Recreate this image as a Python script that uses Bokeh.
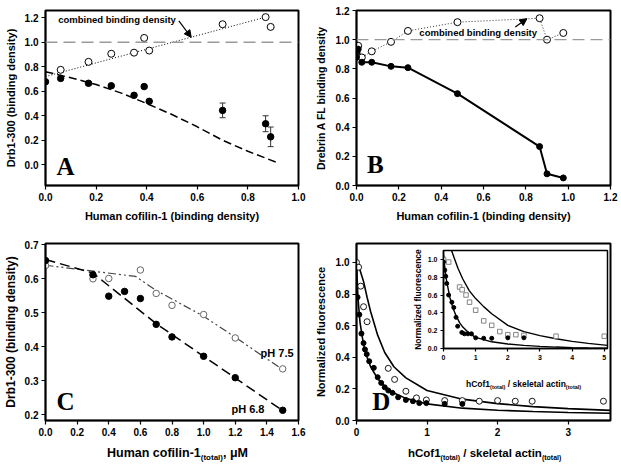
from bokeh.plotting import figure
from bokeh.models import (Range1d, Span, Arrow, NormalHead, TeeHead, Label, Whisker, Div,
                          ColumnDataSource, FixedTicker, CustomJSTickFormatter, GridBox)
from bokeh.embed import file_html
from bokeh.resources import INLINE

SANS = "Liberation Sans"
SERIF = "Liberation Serif"

# ---------------- Panel A ----------------
a_open_x = [0.06, 0.17, 0.26, 0.35, 0.39, 0.41, 0.70, 0.87, 0.89]
a_open_y = [0.775, 0.84, 0.906, 0.915, 1.035, 0.932, 1.147, 1.205, 1.125]
a_fill_x = [0.0, 0.06, 0.17, 0.26, 0.35, 0.39, 0.41, 0.70, 0.87, 0.89]
a_fill_y = [0.677, 0.705, 0.665, 0.645, 0.567, 0.638, 0.518, 0.444, 0.335, 0.228]
a_fill_err = [0.0, 0.0, 0.015, 0.0, 0.0, 0.012, 0.0, 0.06, 0.065, 0.08]
a_comb_x = [0.0, 0.87]
a_comb_y = [0.72, 1.205]
a_theory_x = [0.0, 0.1, 0.2, 0.3, 0.4, 0.5, 0.6, 0.7, 0.8, 0.92]
a_theory_y = [0.76, 0.71, 0.655, 0.585, 0.50, 0.41, 0.31, 0.20, 0.11, 0.015]
a_xticks = [0.0, 0.2, 0.4, 0.6, 0.8, 1.0]
a_yticks = [0.0, 0.2, 0.4, 0.6, 0.8, 1.0, 1.2]

# ---------------- Panel B ----------------
b_x = [0.0, 0.008, 0.025, 0.072, 0.163, 0.243, 0.477, 0.865, 0.900, 0.977]
b_fill_y = [0.88, 0.935, 0.845, 0.845, 0.817, 0.808, 0.630, 0.267, 0.080, 0.052]
b_open_y = [0.883, 0.958, 0.878, 0.920, 0.985, 1.060, 1.120, 1.147, 1.000, 1.046]
b_xticks = [0.0, 0.2, 0.4, 0.6, 0.8, 1.0, 1.2]
b_yticks = [0.0, 0.2, 0.4, 0.6, 0.8, 1.0, 1.2]

# ---------------- Panel C ----------------
c_x = [0.0, 0.3, 0.4, 0.5, 0.6, 0.7, 0.8, 1.0, 1.2, 1.5]
c_ph68_y = [0.654, 0.612, 0.549, 0.563, 0.542, 0.466, 0.429, 0.372, 0.309, 0.213]
c_open_x = [0.0, 0.3, 0.4, 0.6, 0.7, 0.8, 1.0, 1.2, 1.5]
c_ph75_y = [0.639, 0.600, 0.601, 0.626, 0.557, 0.522, 0.495, 0.426, 0.335]
c_fit68_x = [0.0, 0.3, 0.7, 1.0, 1.5]
c_fit68_y = [0.657, 0.617, 0.468, 0.372, 0.212]
c_fit75_x = [0.0, 0.57, 0.7, 1.0, 1.2, 1.5]
c_fit75_y = [0.640, 0.607, 0.566, 0.490, 0.428, 0.333]
c_xticks = [0.0, 0.2, 0.4, 0.6, 0.8, 1.0, 1.2, 1.4, 1.6]
c_yticks = [0.2, 0.3, 0.4, 0.5, 0.6, 0.7]

# ---------------- Panel D ----------------
d_open_x = [0.0, 0.03, 0.06, 0.1, 0.15, 0.45, 0.54, 0.70, 0.85, 0.99, 1.25, 1.5, 1.74, 2.0, 2.25, 2.49, 3.5]
d_open_y = [1.0, 0.97, 0.85, 0.72, 0.625, 0.33, 0.26, 0.185, 0.143, 0.13, 0.126, 0.126, 0.122, 0.126, 0.122, 0.122, 0.122]
d_fill_x = [0.015, 0.04, 0.07, 0.1, 0.12, 0.145, 0.18, 0.245, 0.30, 0.35, 0.40, 0.45, 0.51, 0.59, 0.70, 0.80, 0.89, 0.99, 1.25, 1.5]
d_fill_y = [0.78, 0.67, 0.55, 0.49, 0.45, 0.42, 0.375, 0.333, 0.274, 0.238, 0.21, 0.19, 0.175, 0.147, 0.13, 0.122, 0.11, 0.11, 0.105, 0.105]
d_up_x = [0.0, 0.05, 0.1, 0.15, 0.2, 0.3, 0.4, 0.53, 0.7, 1.0, 1.5, 2.0, 2.5, 3.0, 3.6]
d_up_y = [1.0, 0.95, 0.88, 0.78, 0.69, 0.54, 0.43, 0.34, 0.27, 0.19, 0.135, 0.107, 0.088, 0.075, 0.064]
d_lo_x = [0.0, 0.02, 0.05, 0.1, 0.15, 0.2, 0.3, 0.4, 0.5, 0.7, 1.0, 1.5, 2.0, 2.5, 3.0, 3.6]
d_lo_y = [1.0, 0.78, 0.62, 0.48, 0.40, 0.34, 0.265, 0.215, 0.18, 0.14, 0.105, 0.078, 0.065, 0.057, 0.051, 0.046]
d_xticks = [0, 1, 2, 3]
d_yticks = [0.0, 0.2, 0.4, 0.6, 0.8, 1.0]

# ---------------- Inset of D ----------------
i_sq_x = [0.0, 0.16, 0.5, 0.58, 0.7, 0.81, 1.0, 1.25, 1.5, 1.75, 2.0, 2.25, 2.5, 3.5, 5.0]
i_sq_y = [1.0, 0.97, 0.69, 0.66, 0.6, 0.52, 0.43, 0.31, 0.26, 0.19, 0.155, 0.155, 0.148, 0.138, 0.138]
i_fill_x = [0.0, 0.04, 0.07, 0.1, 0.16, 0.26, 0.32, 0.39, 0.44, 0.57, 0.65, 0.76, 0.87, 1.0, 1.25, 1.5, 2.0, 2.5]
i_fill_y = [0.97, 0.88, 0.81, 0.73, 0.6, 0.52, 0.46, 0.35, 0.25, 0.18, 0.165, 0.165, 0.165, 0.12, 0.115, 0.115, 0.12, 0.12]
i_up_x = [0.25, 0.35, 0.45, 0.6, 0.8, 1.0, 1.25, 1.5, 2.0, 2.5, 3.0, 3.5, 4.0, 4.5, 5.1]
i_up_y = [1.1, 1.0, 0.9, 0.78, 0.65, 0.56, 0.47, 0.39, 0.26, 0.19, 0.145, 0.11, 0.08, 0.058, 0.035]
i_lo_x = [0.0, 0.05, 0.1, 0.2, 0.3, 0.4, 0.5, 0.6, 0.8, 1.0, 1.5, 2.0, 2.5, 3.0, 3.5, 4.0, 4.5, 5.1]
i_lo_y = [1.05, 0.88, 0.75, 0.57, 0.45, 0.36, 0.29, 0.24, 0.17, 0.125, 0.075, 0.05, 0.035, 0.024, 0.016, 0.01, 0.006, 0.003]
i_xticks = [0, 1, 2, 3, 4, 5]
i_yticks = [0.0, 0.2, 0.4, 0.6, 0.8, 1.0]

REF_LEVEL = 1.0


def fmt(decimals):
    return CustomJSTickFormatter(code=f"return tick.toFixed({decimals});")


def make_fig(w, h, xr, yr, bl, br, bt, bb, xt, yt, xdec, ydec, tick_px=10, tick_out=4, outline=2):
    p = figure(width=w, height=h, x_range=Range1d(*xr), y_range=Range1d(*yr),
               output_backend="svg", toolbar_location=None, title=None,
               min_border_left=bl, min_border_right=br, min_border_top=bt, min_border_bottom=bb)
    p.grid.visible = False
    p.outline_line_color = "black"
    p.outline_line_width = outline
    p.outline_line_alpha = 1.0
    for ax in (p.xaxis[0], p.yaxis[0]):
        ax.axis_line_color = "black"
        ax.axis_line_width = 1.5
        ax.major_tick_out = tick_out
        ax.major_tick_in = 0
        ax.major_tick_line_color = "black"
        ax.major_tick_line_width = 1.2
        ax.minor_tick_line_color = None
        ax.major_label_text_font = SANS
        ax.major_label_text_font_style = "bold"
        ax.major_label_text_font_size = f"{tick_px}px"
        ax.major_label_text_color = "black"
        ax.major_label_standoff = 3
        ax.axis_label_text_font = SANS
        ax.axis_label_text_font_style = "bold"
        ax.axis_label_text_color = "black"
    p.xaxis[0].ticker = FixedTicker(ticks=xt)
    p.yaxis[0].ticker = FixedTicker(ticks=yt)
    p.xaxis[0].formatter = fmt(xdec)
    p.yaxis[0].formatter = fmt(ydec)
    return p


def sub_label(parts, size, sub_size, sub_drop, line_h, w, h, margin):
    html = ""
    for text, is_sub in parts:
        if is_sub:
            html += (f'<span style="font-size:{sub_size}px;position:relative;top:{sub_drop}px">'
                     f'{text}</span>')
        else:
            html += text
    html = (f'<div style="font-family:\'{SANS}\',Arial,sans-serif;font-weight:bold;'
            f'font-size:{size}px;line-height:{line_h}px;white-space:nowrap;color:#000;'
            f'margin:0;padding:0">{html}</div>')
    return Div(text=html, width=w, height=h, margin=margin)


def letter(p, x, y, t):
    p.add_layout(Label(x=x, y=y, text=t, text_font=SERIF, text_font_style="bold",
                       text_font_size="25px", text_color="black", text_align="center",
                       text_baseline="middle"))


def note(p, x, y, t, size="9.5px", color="black"):
    p.add_layout(Label(x=x, y=y, text=t, text_font=SANS, text_font_style="bold",
                       text_font_size=size, text_color=color, text_align="left",
                       text_baseline="middle"))


# ---------- A ----------
pA = make_fig(310, 235, (0, 1.0), (-0.169, 1.259), 45, 12, 8, 50, a_xticks, a_yticks, 1, 1)
pA.xaxis.axis_label = "Human cofilin-1 (binding density)"
pA.xaxis.axis_label_text_font_size = "11px"
pA.xaxis.axis_label_standoff = 6
pA.yaxis.axis_label = "Drb1-300 (binding density)"
pA.yaxis.axis_label_text_font_size = "11px"
pA.yaxis.axis_label_standoff = 5
pA.add_layout(Span(location=REF_LEVEL, dimension="width", line_color="#9a9a9a",
                   line_dash="12 6", line_width=1.3))
pA.line(a_comb_x, a_comb_y, line_color="black", line_dash="1 2", line_width=1)
pA.line(a_theory_x, a_theory_y, line_color="black", line_dash="8 4", line_width=1.5)
a_src = ColumnDataSource(dict(x=a_fill_x, lo=[y - e for y, e in zip(a_fill_y, a_fill_err)],
                              hi=[y + e for y, e in zip(a_fill_y, a_fill_err)]))
pA.add_layout(Whisker(source=a_src, base="x", lower="lo", upper="hi", dimension="height",
                      line_color="#333333", line_width=1,
                      upper_head=TeeHead(size=6, line_color="#333333"),
                      lower_head=TeeHead(size=6, line_color="#333333")))
pA.scatter(a_open_x, a_open_y, marker="circle", size=7, fill_color="white", line_color="black", line_width=1)
pA.scatter(a_fill_x, a_fill_y, marker="circle", size=6.5, fill_color="black", line_color="black")
note(pA, 0.05, 1.185, "combined binding density")
pA.add_layout(Arrow(end=NormalHead(size=7, fill_color="black", line_color="black"),
                    x_start=0.527, y_start=1.175, x_end=0.576, y_end=1.04,
                    line_color="black", line_width=1.2))
letter(pA, 0.079, -0.01, "A")

# ---------- B ----------
pB = make_fig(311, 235, (0, 1.2), (0, 1.2), 46, 9, 10, 48, b_xticks, b_yticks, 1, 1)
pB.xaxis.axis_label = "Human cofilin-1 (binding density)"
pB.xaxis.axis_label_text_font_size = "11px"
pB.xaxis.axis_label_standoff = 6
pB.yaxis.axis_label = "Drebrin A FL binding density"
pB.yaxis.axis_label_text_font_size = "10.5px"
pB.yaxis.axis_label_standoff = 6
pB.add_layout(Span(location=REF_LEVEL, dimension="width", line_color="#9a9a9a",
                   line_dash="12 6", line_width=1.3))
pB.line(b_x, b_open_y, line_color="#333333", line_dash="1 2", line_width=1)
pB.line(b_x, b_fill_y, line_color="black", line_width=2)
pB.scatter(b_x, b_open_y, marker="circle", size=7, fill_color="white", line_color="black", line_width=1)
pB.scatter(b_x, b_fill_y, marker="circle", size=6, fill_color="black", line_color="black")
note(pB, 0.297, 1.046, "combined binding density")
pB.add_layout(Arrow(end=NormalHead(size=7, fill_color="black", line_color="black"),
                    x_start=0.75, y_start=1.087, x_end=0.805, y_end=1.144,
                    line_color="black", line_width=1.2))
letter(pB, 0.089, 0.144, "B")

# ---------- C ----------
pC = make_fig(310, 234, (0, 1.6), (0.183, 0.704), 45, 12, 7, 49, c_xticks, c_yticks, 1, 1)
pC.yaxis.axis_label = "Drb1-300 (binding density)"
pC.yaxis.axis_label_text_font_size = "12px"
pC.yaxis.axis_label_standoff = 4
pC.line(c_fit75_x, c_fit75_y, line_color="#444444", line_dash="8 3 2 3 2 3", line_width=1.2)
pC.line(c_fit68_x, c_fit68_y, line_color="black", line_dash="10 5", line_width=1.5)
pC.scatter(c_open_x, c_ph75_y, marker="circle", size=6.5, fill_color="white", line_color="#666666", line_width=1)
pC.scatter(c_x, c_ph68_y, marker="circle", size=6.5, fill_color="black", line_color="black")
note(pC, 1.36, 0.383, "pH 7.5", size="11px")
note(pC, 1.176, 0.217, "pH 6.8", size="11px")
letter(pC, 0.126, 0.24, "C")
labC = sub_label([("Human cofilin-1", False), ("(total)", True), (", \u03bcM", False)],
                 12.5, 8, 3, 16, 170, 22, (210, 0, 0, 107))

# ---------- D ----------
pD = make_fig(311, 234, (0, 3.6), (0, 1.12), 46, 11, 8, 49, d_xticks, d_yticks, 0, 1)
pD.yaxis.axis_label = "Normalized fluorescence"
pD.yaxis.axis_label_text_font_size = "11px"
pD.yaxis.axis_label_standoff = 6
pD.line(d_up_x, d_up_y, line_color="black", line_width=1.6)
pD.line(d_lo_x, d_lo_y, line_color="black", line_width=1.6)
pD.scatter(d_open_x, d_open_y, marker="circle", size=6, fill_color="white", line_color="black", line_width=0.9)
pD.scatter(d_fill_x, d_fill_y, marker="circle", size=5, fill_color="black", line_color="black")
letter(pD, 0.35, 0.12, "D")
labD = sub_label([("hCof1", False), ("(total)", True), (" / skeletal actin", False), ("(total)", True)],
                 11.5, 7, 3, 15, 200, 22, (210, 0, 0, 98))

# ---------- Inset ----------
pI = make_fig(221, 155, (0, 5.1), (0, 1.1), 34, 3, 2, 33, i_xticks, i_yticks, 0, 1,
              tick_px=7, tick_out=3, outline=1.5)
pI.border_fill_alpha = 0
pI.background_fill_alpha = 0
pI.yaxis.axis_label = "Normalized fluorescence"
pI.yaxis.axis_label_text_font_size = "8.5px"
pI.yaxis.axis_label_standoff = 2
pI.line(i_up_x, i_up_y, line_color="black", line_width=1.4)
pI.line(i_lo_x, i_lo_y, line_color="black", line_width=1.4)
pI.scatter(i_sq_x, i_sq_y, marker="square", size=4.5, fill_color="white", line_color="#777777", line_width=0.9)
pI.scatter(i_fill_x, i_fill_y, marker="circle", size=4, fill_color="black", line_color="black")
pI.margin = (7, 0, 0, 87)
labI = sub_label([("hCof1", False), ("(total)", True), (" / skeletal actin", False), ("(total)", True)],
                 8.5, 5.5, 2, 11, 130, 15, (140, 0, 0, 156))

layout = GridBox(children=[(pA, 0, 0), (pB, 0, 1), (pC, 1, 0), (labC, 1, 0),
                           (pD, 1, 1), (pI, 1, 1), (labI, 1, 1), (labD, 1, 1)])

open("out.html", "w").write(file_html(layout, INLINE))
